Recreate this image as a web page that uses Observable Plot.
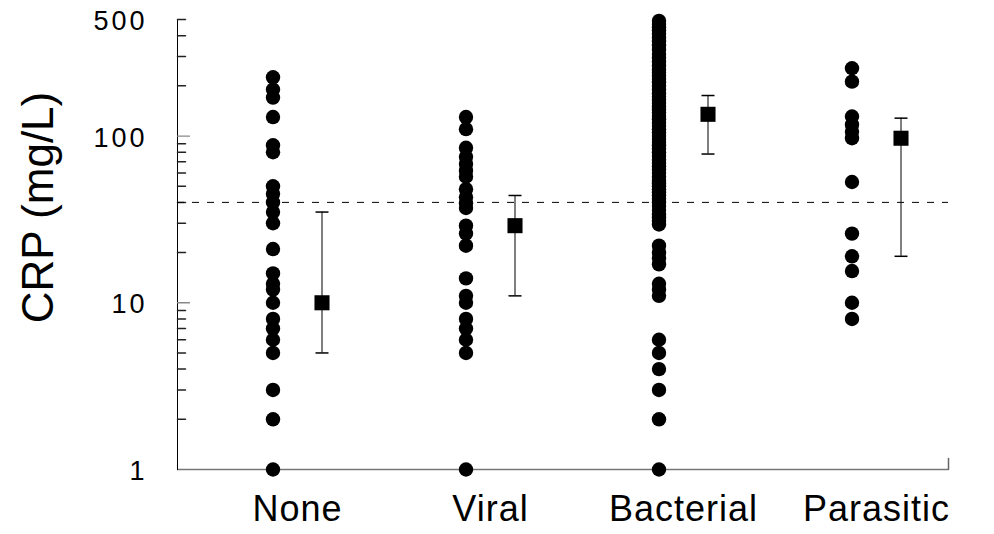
<!DOCTYPE html>
<html>
<head>
<meta charset="utf-8">
<script src="https://cdn.jsdelivr.net/npm/d3@7"></script>
<script src="https://cdn.jsdelivr.net/npm/@observablehq/plot@0.6"></script>
<style>
  html, body { margin: 0; padding: 0; background: #fff; }
  #chart svg { font-family: "Liberation Sans", Arial, sans-serif; }
  g.ytl text { letter-spacing: 3px; }
  g.xtl text { letter-spacing: 1px; }
</style>
</head>
<body>
<div id="chart"></div>
<script>
// ---- data ----
const categories = ["None", "Viral", "Bacterial", "Parasitic"];

const noneValues = [225, 190, 170, 130, 88, 80, 50, 45, 40, 35, 30, 21, 15, 13, 12, 10, 8, 7, 6, 5, 3, 2, 1];
const viralValues = [130, 110, 85, 75, 68, 62, 57, 48, 43, 39.5, 37, 29, 26, 22, 14, 11, 10, 8, 7, 6, 5, 1];
const bacterialValues = [490, 470, 450, 430, 410, 390, 370, 350, 330, 310, 295, 280, 265, 250, 240, 230, 220,
  210, 200, 190, 180, 172, 165, 158, 150, 144, 138, 132, 126, 120, 115, 110, 105, 100, 96, 92, 88, 84, 80,
  76, 72, 69, 66, 63, 60, 57, 54, 52, 50, 48, 46, 44, 42, 40, 38, 36, 34, 32.5, 31, 29.5,
  22, 20, 18.5, 17, 13, 12, 11, 6, 5, 4, 3, 2, 1];
const parasiticValues = [255, 212, 131, 117, 106, 97, 53, 26, 19, 15.5, 10, 8];

const meanValues = [10, 29, 135, 97];
const lowerValues = [5, 11, 78, 19];
const upperValues = [35, 44, 175, 128];

const threshold = 40;
const yTickLabels = [1, 10, 100, 500];
const minorTicks = [2, 3, 4, 5, 6, 7, 8, 9, 20, 30, 40, 50, 60, 70, 80, 90, 200, 300, 400, 500];
const majorTicks = [10, 100];
const yTitle = "CRP (mg/L)";

// ---- tables built from the arrays ----
const seriesByCat = [noneValues, viralValues, bacterialValues, parasiticValues];
const points = categories.flatMap((c, i) => seriesByCat[i].map(v => ({cat: c, crp: v})));
const summary = categories.map((c, i) => ({cat: c, mean: meanValues[i], lo: lowerValues[i], hi: upperValues[i]}));

// custom shapes
const capSymbol = {draw(ctx, size) { const h = Math.sqrt(size / Math.PI); ctx.moveTo(-h, 0); ctx.lineTo(h, 0); }};
const lineShape = {draw(ctx, l) { ctx.moveTo(0, 0); ctx.lineTo(0, -l); }};

const off = 24.5;

const chart = Plot.plot({
  width: 994,
  height: 534,
  marginLeft: 177,
  marginRight: 46,
  marginTop: 19,
  marginBottom: 65,
  style: {fontFamily: "Liberation Sans, Arial, sans-serif", color: "#000", background: "#fff"},
  x: {type: "point", domain: categories, range: [296.5, 876], padding: 0, axis: null},
  y: {type: "log", domain: [1, 500], axis: null},
  marks: [
    // axes lines
    Plot.ruleY([1], {stroke: "#777", strokeWidth: 1.5}),
    Plot.frame({anchor: "left", stroke: "#000"}),
    Plot.vector([0], {frameAnchor: "bottom-right", length: 11, anchor: "start", shape: lineShape, stroke: "#666", strokeWidth: 1.5}),
    // y ticks (inside)
    Plot.vector(minorTicks, {y: d => d, frameAnchor: "left", length: 8, rotate: 90, anchor: "start", shape: lineShape, stroke: "#222"}),
    Plot.vector(majorTicks, {y: d => d, frameAnchor: "left", length: 12, rotate: 90, anchor: "start", shape: lineShape, stroke: "#888", strokeWidth: 1.3}),
    Plot.text(yTickLabels, {y: d => d, text: d => String(d), frameAnchor: "left", dx: -30, dy: 2, textAnchor: "end", lineAnchor: "middle", fontSize: 27, className: "ytl"}),
    Plot.text(categories, {x: d => d, text: d => d, frameAnchor: "bottom", dy: 40, textAnchor: "middle", lineAnchor: "middle", fontSize: 36, className: "xtl"}),
    Plot.text([yTitle], {frameAnchor: "left", dx: -139, dy: -37, rotate: -90, textAnchor: "middle", lineAnchor: "middle", fontSize: 44, text: d => d}),
    // threshold
    Plot.ruleY([threshold], {stroke: "#000", strokeDasharray: "7,8"}),
    // raw values
    Plot.dot(points, {x: "cat", y: "crp", r: 7.2, fill: "#000", dx: -off}),
    // error bars
    Plot.ruleX(summary, {x: "cat", y1: "lo", y2: "hi", dx: off, stroke: "#000"}),
    Plot.dot(summary, {x: "cat", y: "lo", dx: off, r: 6.5, symbol: capSymbol, stroke: "#000", fill: "none"}),
    Plot.dot(summary, {x: "cat", y: "hi", dx: off, r: 6.5, symbol: capSymbol, stroke: "#000", fill: "none"}),
    Plot.dot(summary, {x: "cat", y: "mean", dx: off, r: 8.5, symbol: "square", fill: "#000", stroke: "none"})
  ]
});
document.getElementById("chart").appendChild(chart);
</script>
</body>
</html>
